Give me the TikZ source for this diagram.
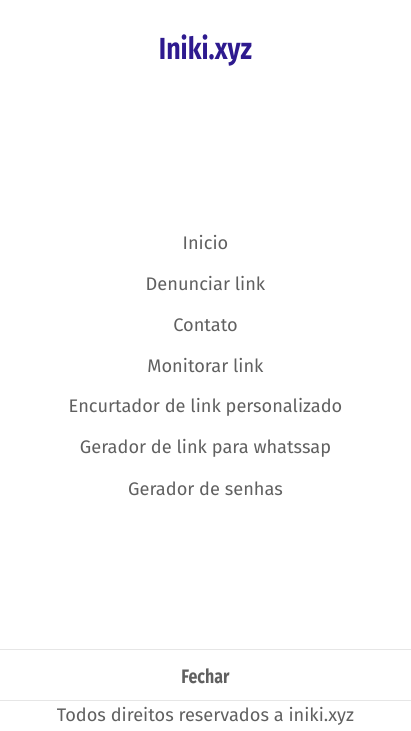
\documentclass[tikz,border=0pt]{standalone}
\usepackage{fontspec}
\setmainfont{Fira Sans}
\newfontfamily\titlefont[FakeStretch=0.82]{Fira Sans}
\definecolor{menugray}{HTML}{606060}
\definecolor{titleblue}{HTML}{2E1A8F}
\definecolor{rulegray}{HTML}{E6E6E6}
\begin{document}
\begin{tikzpicture}[x=1pt, y=-1pt]
\useasboundingbox (0,0) rectangle (411,731);
\tikzset{menuitem/.style={text=menugray, font=\fontsize{18.2}{20}\selectfont, inner sep=0pt}}
\node[text=titleblue, font=\titlefont\bfseries\fontsize{30.5}{34}\selectfont, inner sep=0pt] (title) at (205.5,51){Iniki.xyz};
\node[menuitem] (inicio) at (205.5,243){Inicio};
\node[menuitem] (denunciar) at (205.5,284){Denunciar link};
\node[menuitem] (contato) at (205.5,325){Contato};
\node[menuitem] (monitorar) at (205.5,366){Monitorar link};
\node[menuitem] (encurtador) at (205.5,407){Encurtador de link personalizado};
\node[menuitem] (whatsapp) at (205.5,448){Gerador de link para whatssap};
\node[menuitem] (senhas) at (205.5,489){Gerador de senhas};
\coordinate (rule1l) at (0,649);
\coordinate (rule1r) at (411,649);
\draw[rulegray, line width=1pt](rule1l) -- (rule1r);
\node[text=menugray, font=\titlefont\bfseries\fontsize{19.5}{22}\selectfont, inner sep=0pt] (fechar) at (205.5,676){Fechar};
\coordinate (rule2l) at (0,700);
\coordinate (rule2r) at (411,700);
\draw[rulegray, line width=1pt](rule2l) -- (rule2r);
\node[menuitem] (footer) at (205.5,716){Todos direitos reservados a iniki.xyz};
\end{tikzpicture}
\end{document}
